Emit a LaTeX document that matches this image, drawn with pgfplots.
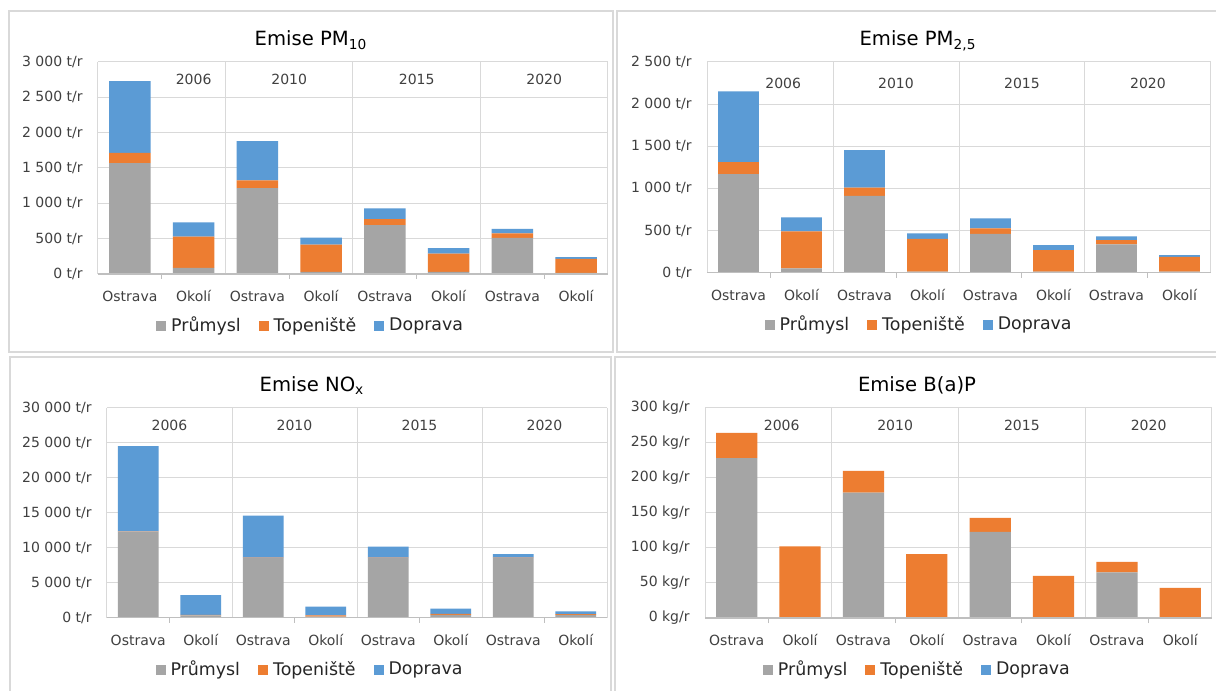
\documentclass[border=0pt]{standalone}
\usepackage{fontspec}
\setmainfont{DejaVu Sans}
\usepackage{pgfplots}
\usepackage{pgfplotstable}
\pgfplotsset{compat=1.18}

\definecolor{cgray}{HTML}{A5A5A5}
\definecolor{corange}{HTML}{ED7D31}
\definecolor{cblue}{HTML}{5B9BD5}
\definecolor{gridc}{HTML}{D9D9D9}
\definecolor{framec}{HTML}{D9D9D9}
\definecolor{axisc}{HTML}{BFBFBF}
\definecolor{tickc}{HTML}{404040}
\definecolor{legc}{HTML}{262626}

% columns: category, Prumysl, Topeniste, Doprava
\pgfplotstableread{
x p t d
0 1570 145 1015
1 85 445 200
2 1215 110 555
3 30 385 100
4 690 85 155
5 30 260 75
6 510 65 65
7 15 200 25
}\pmten
\pgfplotstableread{
x p t d
0 1170 140 840
1 50 440 165
2 910 100 445
3 12 390 65
4 460 65 120
5 12 255 60
6 335 50 45
7 12 175 20
}\pmtwo
\pgfplotstableread{
x p t d
0 12300 50 12150
1 330 80 2800
2 8550 50 6000
3 150 200 1250
4 8550 50 1550
5 400 150 750
6 8550 40 500
7 400 100 400
}\nox
\pgfplotstableread{
x p t d
0 228 36 0
1 0 102 0
2 179 31 0
3 0 91 0
4 123 20 0
5 0 60 0
6 65 15 0
7 0 43 0
}\bap

\tikzset{year/.style={font=\fontsize{7}{8}\selectfont, text=tickc}}

\pgfplotsset{
  sq/.style={legend image code/.code={\fill[##1] (0pt,-2.5pt) rectangle (5pt,2.5pt);}},
  panel/.style={
    scale only axis,
    anchor=south west,
    xmin=-0.5, xmax=7.5, ymin=0,
    scaled y ticks=false,
    ybar stacked, bar width=0.65,
    axis line style={draw=none},
    tick pos=left,
    tick align=outside,
    major tick length=0pt,
    minor tick length=2.5pt,
    minor tick style={axisc, line width=0.5pt},
    xtick={0,...,7},
    xticklabels={Ostrava,Okolí,Ostrava,Okolí,Ostrava,Okolí,Ostrava,Okolí},
    minor xtick={0.5,2.5,4.5,6.5},
    extra x ticks={-0.5,1.5,3.5,5.5,7.5},
    extra x tick labels={},
    extra x tick style={grid=major, major tick length=0pt},
    ymajorgrids,
    grid style={gridc, line width=0.5pt},
    xticklabel style={anchor=base, inner sep=0pt, yshift=-13.75pt,
      font=\fontsize{7}{8}\selectfont, text=tickc},
    yticklabel style={anchor=east, inner sep=0pt, xshift=-7.5pt,
      font=\fontsize{7}{8}\selectfont, text=tickc},
    legend columns=3,
    legend style={draw=none, fill=none, anchor=center, yshift=-26pt,
      font=\fontsize{8.7}{10}\selectfont, text=legc,
      nodes={inner sep=0pt},
      /tikz/every odd column/.append style={column sep=2.5pt},
      /tikz/every even column/.append style={column sep=9pt}},
    extra description/.code={\draw[axisc, line width=0.6pt] (0,0) -- (1,0);},
  },
}

\begin{document}
\begin{tikzpicture}
\useasboundingbox[fill=white] (0pt,0pt) rectangle (608pt,345.5pt);
% panel frames
\draw[framec, line width=0.6pt] (4.5pt,169.5pt) rectangle (306.5pt,340pt);
\draw[framec, line width=0.6pt] (308.5pt,169.5pt) rectangle (612pt,340pt);
\draw[framec, line width=0.6pt] (5pt,-2pt) rectangle (305.5pt,167pt);
\draw[framec, line width=0.6pt] (307.5pt,-2pt) rectangle (612pt,167pt);

% titles
\node[anchor=base, font=\fontsize{9.8}{12}\selectfont] at (155.5pt,322.5pt) {Emise PM\textsubscript{10}};
\node[anchor=base, font=\fontsize{9.8}{12}\selectfont] at (459pt,322.5pt) {Emise PM\textsubscript{2,5}};
\node[anchor=base, font=\fontsize{9.8}{12}\selectfont] at (156pt,149.6pt) {Emise NO\textsubscript{x}};
\node[anchor=base, font=\fontsize{9.8}{12}\selectfont] at (458.5pt,149.5pt) {Emise B(a)P};

% PM10
\begin{axis}[panel, at={(49pt,208.5pt)}, width=255pt, height=106pt,
  ymax=3000, ytick={0,500,...,3000},
  yticklabels={0 t/r,500 t/r,1 000 t/r,1 500 t/r,2 000 t/r,2 500 t/r,3 000 t/r},
  legend style={at={(0.415,0)}}]
\addplot[sq, fill=cgray, draw=none] table[x=x,y=p]{\pmten};
\addlegendentry{Průmysl}
\addplot[sq, fill=corange, draw=none] table[x=x,y=t]{\pmten};
\addlegendentry{Topeniště}
\addplot[sq, fill=cblue, draw=none] table[x=x,y=d]{\pmten};
\addlegendentry{Doprava}
\node[year] at (axis cs:1.0,2750) {2006};
\node[year] at (axis cs:2.5,2750) {2010};
\node[year] at (axis cs:4.5,2750) {2015};
\node[year] at (axis cs:6.5,2750) {2020};
\end{axis}

% PM2.5
\begin{axis}[panel, at={(353.5pt,209.15pt)}, width=252pt, height=105.4pt,
  ymax=2500, ytick={0,500,...,2500},
  yticklabels={0 t/r,500 t/r,1 000 t/r,1 500 t/r,2 000 t/r,2 500 t/r},
  legend style={at={(0.419,0)}}]
\addplot[sq, fill=cgray, draw=none] table[x=x,y=p]{\pmtwo};
\addlegendentry{Průmysl}
\addplot[sq, fill=corange, draw=none] table[x=x,y=t]{\pmtwo};
\addlegendentry{Topeniště}
\addplot[sq, fill=cblue, draw=none] table[x=x,y=d]{\pmtwo};
\addlegendentry{Doprava}
\node[year] at (axis cs:0.71,2250) {2006};
\node[year] at (axis cs:2.5,2250) {2010};
\node[year] at (axis cs:4.5,2250) {2015};
\node[year] at (axis cs:6.5,2250) {2020};
\end{axis}

% NOx
\begin{axis}[panel, at={(53.5pt,36.65pt)}, width=250pt, height=105pt,
  ymax=30000, ytick={0,5000,...,30000},
  yticklabels={0 t/r,5 000 t/r,10 000 t/r,15 000 t/r,20 000 t/r,25 000 t/r,30 000 t/r},
  legend style={at={(0.404,0)}}]
\addplot[sq, fill=cgray, draw=none] table[x=x,y=p]{\nox};
\addlegendentry{Průmysl}
\addplot[sq, fill=corange, draw=none] table[x=x,y=t]{\nox};
\addlegendentry{Topeniště}
\addplot[sq, fill=cblue, draw=none] table[x=x,y=d]{\nox};
\addlegendentry{Doprava}
\node[year] at (axis cs:0.5,27500) {2006};
\node[year] at (axis cs:2.5,27500) {2010};
\node[year] at (axis cs:4.5,27500) {2015};
\node[year] at (axis cs:6.5,27500) {2020};
\end{axis}

% B(a)P
\begin{axis}[panel, at={(352.5pt,36.5pt)}, width=253.5pt, height=105.15pt,
  ymax=300, ytick={0,50,...,300},
  yticklabels={0 kg/r,50 kg/r,100 kg/r,150 kg/r,200 kg/r,250 kg/r,300 kg/r},
  legend style={at={(0.417,0)}}]
\addplot[sq, fill=cgray, draw=none] table[x=x,y=p]{\bap};
\addlegendentry{Průmysl}
\addplot[sq, fill=corange, draw=none] table[x=x,y=t]{\bap};
\addlegendentry{Topeniště}
\addplot[sq, fill=cblue, draw=none] table[x=x,y=d]{\bap};
\addlegendentry{Doprava}
\node[year] at (axis cs:0.71,275) {2006};
\node[year] at (axis cs:2.5,275) {2010};
\node[year] at (axis cs:4.5,275) {2015};
\node[year] at (axis cs:6.5,275) {2020};
\end{axis}
\end{tikzpicture}
\end{document}
